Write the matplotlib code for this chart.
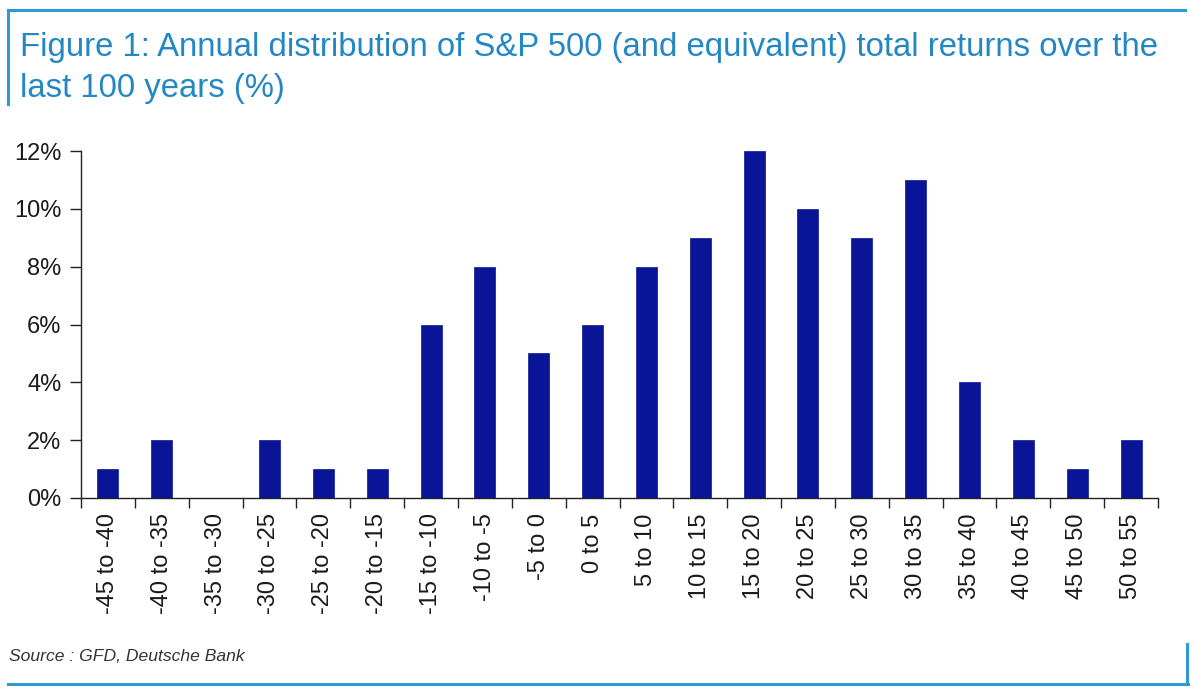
import matplotlib
matplotlib.use("Agg")
import matplotlib.pyplot as plt
from matplotlib.lines import Line2D
from matplotlib.ticker import FuncFormatter, FixedLocator
import numpy as np

categories = ["-45 to -40", "-40 to -35", "-35 to -30", "-30 to -25", "-25 to -20",
              "-20 to -15", "-15 to -10", "-10 to -5", "-5 to 0", "0 to 5",
              "5 to 10", "10 to 15", "15 to 20", "20 to 25", "25 to 30",
              "30 to 35", "35 to 40", "40 to 45", "45 to 50", "50 to 55"]
values = [1, 2, 0, 2, 1, 1, 6, 8, 5, 6, 8, 9, 12, 10, 9, 11, 4, 2, 1, 2]
yticks = [0, 2, 4, 6, 8, 10, 12]

plt.rcParams['font.family'] = ['Liberation Sans', 'DejaVu Sans']

fig = plt.figure(figsize=(12, 6.96), dpi=100)
W, H = 1200, 696
ax = fig.add_axes([81 / W, 1 - 498 / H, (1158 - 81) / W, (498 - 151) / H])

x = np.arange(len(categories))
ax.bar(x, values, width=0.39, color="#0A1496", edgecolor="#0A1496", linewidth=0.5)
ax.set_xlim(-0.5, len(categories) - 0.5)
ax.set_ylim(0, 12)
ax.yaxis.set_major_locator(FixedLocator(yticks))
ax.yaxis.set_major_formatter(FuncFormatter(lambda v, p: f"{v:.0f}%"))
ax.set_xticks(x)
ax.set_xticklabels(categories, rotation=90, fontsize=17, color="#1a1a1a")
ax.tick_params(axis='x', which='major', length=0, pad=11)
ax.set_xticks(np.arange(len(categories) + 1) - 0.5, minor=True)
ax.tick_params(axis='x', which='minor', length=7, width=1, color="#222222", direction='out')
ax.tick_params(axis='y', length=8, width=1, color="#222222", labelsize=17, labelcolor="#1a1a1a", pad=6)
for s in ['top', 'right']:
    ax.spines[s].set_visible(False)
for s in ['left', 'bottom']:
    ax.spines[s].set_color("#222222")
    ax.spines[s].set_linewidth(1)

line_c = "#2C9BD2"
fig.add_artist(Line2D([8 / W, 1185 / W], [1 - 10 / H, 1 - 10 / H], color=line_c, lw=2.2))
fig.add_artist(Line2D([8 / W, 8 / W], [1 - 10 / H, 1 - 104 / H], color=line_c, lw=2.2))
fig.add_artist(Line2D([8 / W, 1188 / W], [1 - 684 / H, 1 - 684 / H], color=line_c, lw=2.2))
fig.add_artist(Line2D([1187 / W, 1187 / W], [1 - 684 / H, 1 - 644 / H], color=line_c, lw=2.2))

title_c = "#2387C4"
fig.text(20 / W, 1 - 56 / H, "Figure 1: Annual distribution of S&P 500 (and equivalent) total returns over the",
         fontsize=23.7, color=title_c, ha='left', va='baseline')
fig.text(20 / W, 1 - 97 / H, "last 100 years (%)", fontsize=23.7, color=title_c, ha='left', va='baseline')

fig.text(9 / W, 1 - 661 / H, "Source : GFD, Deutsche Bank", fontsize=12.6, style='italic',
         color="#333333", ha='left', va='baseline')

fig.savefig("out.png", dpi=100)
